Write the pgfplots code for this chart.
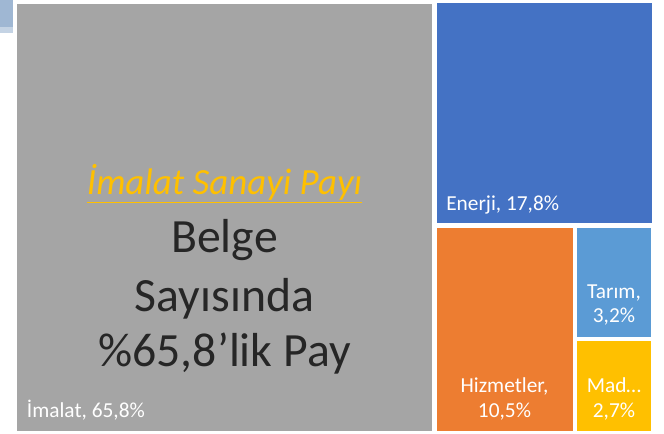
\documentclass[border=0pt]{standalone}
\usepackage{pgfplots}
\pgfplotsset{compat=1.18}
\usepackage{fontspec}
\setmainfont{Carlito}
\definecolor{cgray}{HTML}{A5A5A5}
\definecolor{cblue}{HTML}{4472C4}
\definecolor{corange}{HTML}{ED7D31}
\definecolor{clblue}{HTML}{5B9BD5}
\definecolor{cgold}{HTML}{FFC000}
\definecolor{cdark}{HTML}{262626}
\definecolor{cblob}{HTML}{9FB7D3}
\definecolor{cblobb}{HTML}{C4D3E4}
\begin{document}
\begin{tikzpicture}
\begin{axis}[width=498pt,height=325.5pt,scale only axis,
  xmin=0,xmax=664,ymin=0,ymax=434,y dir=reverse,hide axis,clip=false]
% decorative blob top-left
\addplot[fill=cblob,draw=none] coordinates {(0,0) (13,0) (13,27) (0,27)} -- cycle;
\addplot[fill=cblobb,draw=none] coordinates {(0,27) (13,27) (13,33) (0,33)} -- cycle;
% Imalat 65.8
\addplot[fill=cgray,draw=none] coordinates {(16.5,4) (432,4) (432,431.5) (16.5,431.5)} -- cycle;
% Enerji 17.8
\addplot[fill=cblue,draw=none] coordinates {(436.5,3.5) (651.5,3.5) (651.5,223) (436.5,223)} -- cycle;
% Hizmetler 10.5
\addplot[fill=corange,draw=none] coordinates {(436.5,228) (572.7,228) (572.7,431.5) (436.5,431.5)} -- cycle;
% Tarim 3.2
\addplot[fill=clblue,draw=none] coordinates {(576.7,228) (651,228) (651,336.7) (576.7,336.7)} -- cycle;
% Madencilik 2.7
\addplot[fill=cgold,draw=none] coordinates {(576.7,340.7) (651,340.7) (651,431.5) (576.7,431.5)} -- cycle;

\def\small{\fontsize{16}{18}\selectfont}
\node[anchor=base west,text=white,font=\small,inner sep=0pt] at (axis cs:26.7,417.3) {İmalat, 65,8\%};
\node[anchor=base west,text=white,font=\small,inner sep=0pt] at (axis cs:446,211) {Enerji, 17,8\%};
\node[anchor=base,text=white,font=\small,inner sep=0pt] at (axis cs:504.5,393) {Hizmetler,};
\node[anchor=base,text=white,font=\small,inner sep=0pt] at (axis cs:504.5,418) {10,5\%};
\node[anchor=base,text=white,font=\small,inner sep=0pt] at (axis cs:614,299) {Tarım,};
\node[anchor=base,text=white,font=\small,inner sep=0pt] at (axis cs:614,323) {3,2\%};
\node[anchor=base,text=white,font=\small,inner sep=0pt] at (axis cs:614,393) {Mad…};
\node[anchor=base,text=white,font=\small,inner sep=0pt] at (axis cs:614,417) {2,7\%};

\node[anchor=base,text=cgold,font=\fontsize{27.7}{30}\selectfont\itshape,inner sep=0pt] (title) at (axis cs:224.5,195) {İmalat Sanayi Payı};
\draw[cgold,line width=1.3pt] ([yshift=-1pt]title.south west) -- ([yshift=-1pt]title.south east);
\node[anchor=base,text=cdark,font=\fontsize{35.8}{40}\selectfont,inner sep=0pt] at (axis cs:224.5,253) {Belge};
\node[anchor=base,text=cdark,font=\fontsize{35.8}{40}\selectfont,inner sep=0pt] at (axis cs:224.5,311.5) {Sayısında};
\node[anchor=base,text=cdark,font=\fontsize{35.8}{40}\selectfont,inner sep=0pt] at (axis cs:224.5,367) {\%65,8’lik Pay};
\end{axis}
\path[use as bounding box] (current axis.south west) rectangle (current axis.north east);
\end{tikzpicture}
\end{document}
